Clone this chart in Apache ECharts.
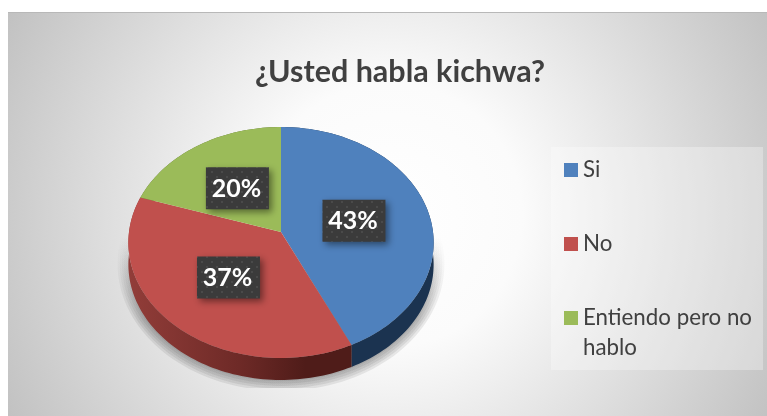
<!DOCTYPE html>
<html>
<head>
<meta charset="utf-8">
<style>html,body{margin:0;padding:0;background:#fff}#chart{width:767px;height:416px}</style>
<script src="https://cdn.jsdelivr.net/npm/echarts@6/dist/echarts.min.js"></script>
</head>
<body>
<div id="chart"></div>
<script>
var titleText = '¿Usted habla kichwa?';
var categories = ['Si', 'No', 'Entiendo pero no hablo'];
var values = [43, 37, 20];
var labels = ['43%', '37%', '20%'];
var colors = ['#4f81bd', '#c0504d', '#9bbb59'];

var myChart = echarts.init(document.getElementById('chart'));
var font = 'Lato';
var total = values.reduce(function (a, b) { return a + b; }, 0);

// the tilted pie: a circle seen in perspective
var cx = 281, cy = 232, rx = 152, ry = 114.5, tilt = 0.0909, depth = 22;
function project(frac, r) {
  var a = frac * Math.PI * 2;
  var x = Math.sin(a) * r, y = -Math.cos(a) * r;
  var d = 1 - tilt * y;
  return [cx + rx * x / d, cy + ry * y / d];
}
function arcPoints(from, to) {
  var pts = [], n = Math.ceil((to - from) * 240);
  for (var i = 0; i <= n; i++) pts.push(project(from + (to - from) * i / n, 1));
  return pts;
}

// dotted fill of the label boxes
var dots = document.createElement('canvas');
dots.width = 10; dots.height = 10;
var g = dots.getContext('2d');
g.fillStyle = '#3b3b3b';
g.fillRect(0, 0, 10, 10);
g.fillStyle = '#4a4a4a';
g.fillRect(1, 1, 2, 2);
g.fillRect(6, 6, 2, 2);

function sliceSeries(i) {
  var start = values.slice(0, i).reduce(function (a, b) { return a + b; }, 0) / total;
  var end = start + values[i] / total;
  return {
    type: 'custom',
    name: categories[i],
    coordinateSystem: 'none',
    itemStyle: { color: colors[i] },
    data: [values[i]],
    silent: true,
    renderItem: function () {
      var rim = arcPoints(start, end);
      var top = [[cx, cy]].concat(rim);
      var wall = rim.concat(rim.slice().reverse().map(function (p) { return [p[0], p[1] + depth]; }));
      var wallFill = i === 1
        ? { type: 'linear', x: 128, y: 0, x2: 350, y2: 0, global: true,
            colorStops: [{ offset: 0, color: '#923d39' }, { offset: 0.5, color: '#6e2a27' }, { offset: 0.8, color: '#4f1c19' }, { offset: 1, color: '#4f1c19' }] }
        : (i === 0 ? '#1b3350' : '#5d7032');
      var mid = (start + end) / 2;
      var c = project(mid, 0.5);
      return {
        type: 'group',
        children: [
          { type: 'polygon', z2: 1, shape: { points: wall }, style: { fill: wallFill } },
          { type: 'polygon', z2: 2, shape: { points: top }, style: { fill: colors[i] } },
          { type: 'rect', z2: 3, shape: { x: c[0] - 32, y: c[1] - 20, width: 63, height: 42 },
            style: { fill: { image: dots, repeat: 'repeat' }, shadowBlur: 7, shadowOffsetX: 3, shadowOffsetY: 3, shadowColor: 'rgba(0,0,0,0.45)' } },
          { type: 'text', z2: 4, x: c[0] - 1.5, y: c[1] + 1.5,
            style: { text: labels[i], fill: '#fff', font: 'bold 25px ' + font, align: 'center', verticalAlign: 'middle' } }
        ]
      };
    }
  };
}

// soft floor shadow, stacked ellipses fading in from the pie's waist
var shadowSteps = [0, 1, 2, 3, 4, 5, 6, 7];
var shadowSeries = {
  type: 'custom',
  name: 'sombra',
  coordinateSystem: 'none',
  z: 1,
  silent: true,
  data: [0],
  renderItem: function () {
    return {
      type: 'group',
      clipPath: { type: 'rect', shape: { x: 110, y: 236, width: 345, height: 152 } },
      children: shadowSteps.map(function (k) {
        return {
          type: 'ellipse',
          shape: { cx: cx, cy: 264, rx: 148 + k * 2.2, ry: 110 + k * 2.4 },
          style: { fill: { type: 'linear', x: 0, y: 236, x2: 0, y2: 320, global: true,
            colorStops: [{ offset: 0, color: 'rgba(70,70,70,0)' }, { offset: 1, color: 'rgba(70,70,70,0.11)' }] } }
        };
      })
    };
  }
};

var legendTops = [150, 224, 268];
var option = {
  animation: false,
  backgroundColor: '#fff',
  title: {
    text: titleText,
    left: 395,
    top: 52,
    textAlign: 'center',
    textStyle: { fontFamily: font, fontWeight: 'bold', fontSize: 30.5, color: '#404040' }
  },
  graphic: [
    { type: 'rect', z: 0, shape: { x: 8, y: 12, width: 759, height: 404 },
      style: { fill: { type: 'radial', x: 390, y: 215, r: 440, global: true,
        colorStops: [{ offset: 0, color: '#ffffff' }, { offset: 0.3, color: '#fbfbfb' }, { offset: 1, color: '#c0c0c0' }] } } },
    { type: 'rect', z: 0, shape: { x: 8, y: 12, width: 759, height: 1 }, style: { fill: '#b8b8b8' } },
    { type: 'rect', z: 0, shape: { x: 551, y: 147, width: 212, height: 223 }, style: { fill: 'rgba(255,255,255,0.3)' } }
  ],
  legend: categories.map(function (name, i) {
    return {
      data: [name],
      left: 559,
      top: legendTops[i],
      itemWidth: 14,
      itemHeight: 14,
      itemGap: 0,
      icon: 'rect',
      selectedMode: false,
      formatter: function (n) {
        return i === 2 ? '\nEntiendo pero no\nhablo' : n;
      },
      textStyle: { fontFamily: font, fontSize: 22.3, lineHeight: 30, color: '#404040' }
    };
  }),
  series: [shadowSeries].concat(categories.map(function (c, i) { return sliceSeries(i); }))
};
myChart.setOption(option);
</script>
</body>
</html>
